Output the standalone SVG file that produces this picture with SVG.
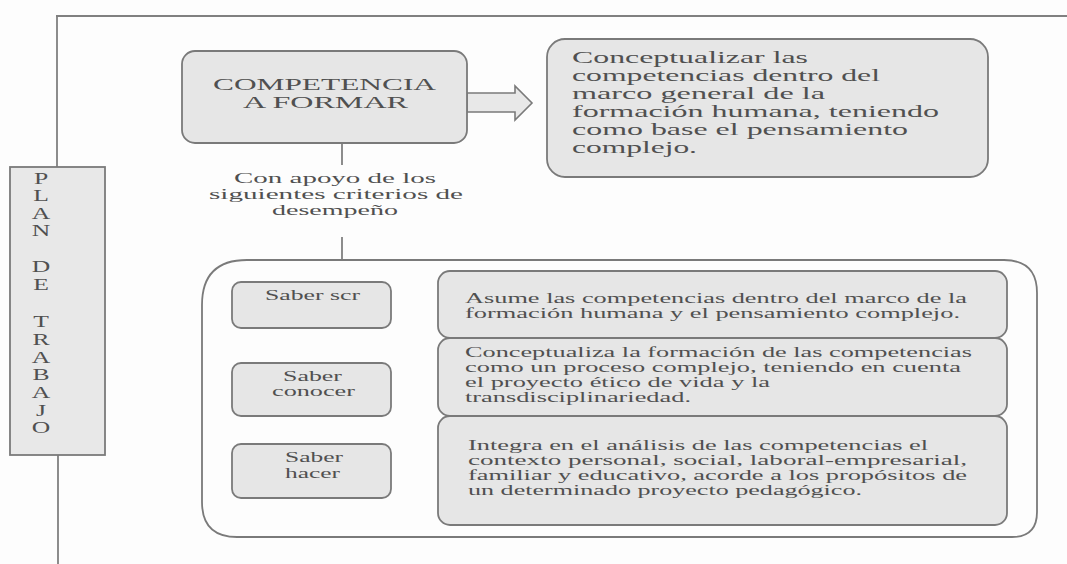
<svg xmlns="http://www.w3.org/2000/svg" width="1067" height="564" viewBox="0 0 1067 564">
<defs>
<style>
text{fill:#505050;font-family:"Liberation Serif","Times New Roman",serif}
.box{fill:#e6e6e6;stroke:#7a7a7a;stroke-width:1.8}
.ln{stroke:#808080;stroke-width:1.8;fill:none}
</style>
<marker id="ah" markerWidth="14" markerHeight="10" refX="13" refY="5" orient="auto" markerUnits="userSpaceOnUse">
<path d="M0,1 L13,5 L0,9 Z" fill="#666"/>
</marker>
</defs>
<rect width="1067" height="564" fill="#fdfdfd"/>

<g id="connectors">
<path class="ln" d="M56,16 H1067"/>
<path class="ln" d="M57,16 V167"/>
<path class="ln" d="M58,455 V564"/>
<path class="ln" d="M342,143 V165"/>
<path class="ln" d="M342,237 V260"/>
<polygon points="467,93 515,93 515,86 532,103 515,120 515,112 467,112" fill="#e8e8e8" stroke="#7a7a7a" stroke-width="1.6"/>
<path class="ln" d="M391,304 H437" stroke-width="1.5" marker-end="url(#ah)"/>
<path class="ln" d="M391,386 H437" stroke-width="1.5" marker-end="url(#ah)"/>
<path class="ln" d="M391,467 H437" stroke-width="1.5" marker-end="url(#ah)"/>
</g>

<g id="plan-de-trabajo">
<rect x="10" y="167" width="95" height="288" fill="#e8e8e8" stroke="#7a7a7a" stroke-width="1.8"/>
<g transform="translate(41,0) scale(1.6,1)" font-size="16" text-anchor="middle">
<text x="0" y="184">P</text>
<text x="0" y="201">L</text>
<text x="0" y="219">A</text>
<text x="0" y="236">N</text>
<text x="0" y="272">D</text>
<text x="0" y="290">E</text>
<text x="0" y="327">T</text>
<text x="0" y="345">R</text>
<text x="0" y="363">A</text>
<text x="0" y="380">B</text>
<text x="0" y="398">A</text>
<text x="0" y="416">J</text>
<text x="0" y="433">O</text>
</g>
</g>

<g id="competencia">
<rect class="box" x="182" y="51" width="285" height="92" rx="13"/>
<text font-size="17" x="213" y="90" textLength="223" lengthAdjust="spacingAndGlyphs">COMPETENCIA</text>
<text font-size="17" x="243" y="108" textLength="165" lengthAdjust="spacingAndGlyphs">A FORMAR</text>
</g>

<g id="conceptualizar">
<rect class="box" x="547" y="39" width="441" height="138" rx="18"/>
<g font-size="17">
<text x="572" y="63" textLength="236" lengthAdjust="spacingAndGlyphs">Conceptualizar las</text>
<text x="572" y="81" textLength="308" lengthAdjust="spacingAndGlyphs">competencias dentro del</text>
<text x="572" y="99" textLength="253" lengthAdjust="spacingAndGlyphs">marco general de la</text>
<text x="572" y="117" textLength="367" lengthAdjust="spacingAndGlyphs">formación humana, teniendo</text>
<text x="572" y="135" textLength="336" lengthAdjust="spacingAndGlyphs">como base el pensamiento</text>
<text x="572" y="153" textLength="125" lengthAdjust="spacingAndGlyphs">complejo.</text>
</g>
</g>

<g id="criterios-label" font-size="14">
<text x="234" y="183" textLength="202" lengthAdjust="spacingAndGlyphs">Con apoyo de los</text>
<text x="209" y="199" textLength="254" lengthAdjust="spacingAndGlyphs">siguientes criterios de</text>
<text x="272" y="215" textLength="126" lengthAdjust="spacingAndGlyphs">desempeño</text>
</g>

<g id="criterios-container">
<path d="M247,260 H1004 Q1037,260 1037,293 V512 Q1037,537 1012,537 H237 Q202,537 202,502 V305 Q202,260 247,260 Z" fill="#fdfdfd" stroke="#7a7a7a" stroke-width="1.8"/>
</g>

<g id="saber-ser">
<rect class="box" x="232" y="282" width="159" height="46" rx="9"/>
<text font-size="15" x="265" y="300" textLength="95" lengthAdjust="spacingAndGlyphs">Saber scr</text>
</g>
<g id="saber-conocer">
<rect class="box" x="232" y="363" width="159" height="53" rx="9"/>
<text font-size="15" x="283" y="381" textLength="59" lengthAdjust="spacingAndGlyphs">Saber</text>
<text font-size="15" x="272" y="396" textLength="83" lengthAdjust="spacingAndGlyphs">conocer</text>
</g>
<g id="saber-hacer">
<rect class="box" x="232" y="444" width="159" height="54" rx="9"/>
<text font-size="15" x="285" y="462" textLength="58" lengthAdjust="spacingAndGlyphs">Saber</text>
<text font-size="15" x="285" y="478" textLength="55" lengthAdjust="spacingAndGlyphs">hacer</text>
</g>

<g id="desc-ser">
<rect class="box" x="438" y="271" width="569" height="67" rx="12"/>
<g font-size="15">
<text x="465" y="303" textLength="502" lengthAdjust="spacingAndGlyphs">Asume las competencias dentro del marco de la</text>
<text x="465" y="318" textLength="495" lengthAdjust="spacingAndGlyphs">formación humana y el pensamiento complejo.</text>
</g>
</g>
<g id="desc-conocer">
<rect class="box" x="438" y="338" width="569" height="78" rx="12"/>
<g font-size="15">
<text x="465" y="357" textLength="507" lengthAdjust="spacingAndGlyphs">Conceptualiza la formación de las competencias</text>
<text x="465" y="372" textLength="496" lengthAdjust="spacingAndGlyphs">como un proceso complejo, teniendo en cuenta</text>
<text x="465" y="387" textLength="305" lengthAdjust="spacingAndGlyphs">el proyecto ético de vida y la</text>
<text x="465" y="402" textLength="226" lengthAdjust="spacingAndGlyphs">transdisciplinariedad.</text>
</g>
</g>
<g id="desc-hacer">
<rect class="box" x="438" y="416" width="569" height="109" rx="12"/>
<g font-size="15">
<text x="468" y="450" textLength="460" lengthAdjust="spacingAndGlyphs">Integra en el análisis de las competencias el</text>
<text x="468" y="465" textLength="499" lengthAdjust="spacingAndGlyphs">contexto personal, social, laboral-empresarial,</text>
<text x="468" y="480" textLength="499" lengthAdjust="spacingAndGlyphs">familiar y educativo, acorde a los propósitos de</text>
<text x="468" y="495" textLength="394" lengthAdjust="spacingAndGlyphs">un determinado proyecto pedagógico.</text>
</g>
</g>
</svg>
